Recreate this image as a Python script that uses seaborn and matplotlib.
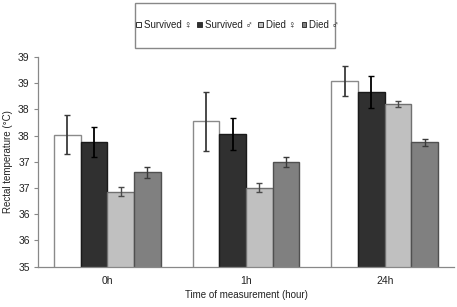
import pandas as pd
import seaborn as sns
import matplotlib.pyplot as plt
from matplotlib.patches import Rectangle, Patch
from matplotlib.ticker import FixedLocator, FuncFormatter

times = ["0h", "1h", "24h"]
groups = ["Survived \u2640", "Survived \u2642", "Died \u2640", "Died \u2642"]
means = {
    "Survived \u2640": [37.52, 37.77, 38.54],
    "Survived \u2642": [37.38, 37.53, 38.33],
    "Died \u2640": [36.43, 36.51, 38.10],
    "Died \u2642": [36.80, 37.00, 37.37],
}
errors = {
    "Survived \u2640": [0.37, 0.56, 0.28],
    "Survived \u2642": [0.28, 0.30, 0.31],
    "Died \u2640": [0.09, 0.09, 0.055],
    "Died \u2642": [0.10, 0.10, 0.06],
}
colors = ["#ffffff", "#303030", "#c0c0c0", "#808080"]
edges = ["#8a8a8a", "#1a1a1a", "#707070", "#505050"]
err_colors = ["#3a3a3a", "#000000", "#4a4a4a", "#3a3a3a"]

rows = []
for g in groups:
    for t, m in zip(times, means[g]):
        rows.append({"time": t, "group": g, "temp": m})
df = pd.DataFrame(rows)

sns.set_theme(style="white")
plt.rcParams["font.family"] = ["Liberation Sans", "DejaVu Sans"]

fig = plt.figure(figsize=(4.57, 3.07), dpi=100)
ax = fig.add_axes([0.0832, 0.1313, 0.9102, 0.6830])

sns.barplot(data=df, x="time", y="temp", hue="group", hue_order=groups,
            palette=colors, width=0.77, errorbar=None, ax=ax, legend=False)

for i, (cont, g) in enumerate(zip(ax.containers, groups)):
    xs, ys = [], []
    for bar in cont:
        bar.set_edgecolor(edges[i])
        bar.set_linewidth(1.0)
        xs.append(bar.get_x() + bar.get_width() / 2)
        ys.append(bar.get_height())
    ax.errorbar(xs, ys, yerr=errors[g], fmt="none", ecolor=err_colors[i],
                elinewidth=1.3 if i < 2 else 1.0, capsize=2, capthick=1.0)

ax.set_ylim(35, 39)
ax.set_xlim(-0.5, 2.5)
ax.yaxis.set_major_locator(FixedLocator([35 + 0.5 * k for k in range(9)]))
ax.yaxis.set_major_formatter(FuncFormatter(lambda v, p: "%d" % int(v + 0.5)))
ax.set_xticks([0, 1, 2])
ax.set_xticks([-0.5, 0.5, 1.5, 2.5], minor=True)
ax.tick_params(axis="x", which="major", length=0, labelsize=7.5, pad=6.5, colors="#222222")
ax.tick_params(axis="x", which="minor", length=3, width=0.8, color="#888888", direction="out")
ax.tick_params(axis="y", length=3, width=0.8, color="#888888", direction="out",
               labelsize=7.5, labelcolor="#222222", pad=3, left=True)
for s in ["top", "right"]:
    ax.spines[s].set_visible(False)
for s in ["left", "bottom"]:
    ax.spines[s].set_color("#888888")
    ax.spines[s].set_linewidth(0.9)

ax.set_xlabel("Time of measurement (hour)", fontsize=7, color="#222222", labelpad=3)
ax.set_ylabel("Rectal temperature (\u00b0C)", fontsize=7, color="#222222", labelpad=4)

handles = [Patch(facecolor=c, edgecolor="#333333", linewidth=0.7) for c in colors]
fig.patches.append(Rectangle((135 / 457, 1 - 48 / 307), 200 / 457, 45 / 307,
                             transform=fig.transFigure, facecolor="white",
                             edgecolor="#888888", linewidth=1.0))
fig.legend(handles, groups, loc="center", bbox_to_anchor=(0.52, 1 - 25 / 307),
           ncol=4, fontsize=7, frameon=False, labelcolor="#222222",
           handlelength=0.45, handleheight=0.45, handletextpad=0.3,
           columnspacing=0.6, borderpad=0.2, borderaxespad=0)

fig.savefig("out.png", dpi=100)
